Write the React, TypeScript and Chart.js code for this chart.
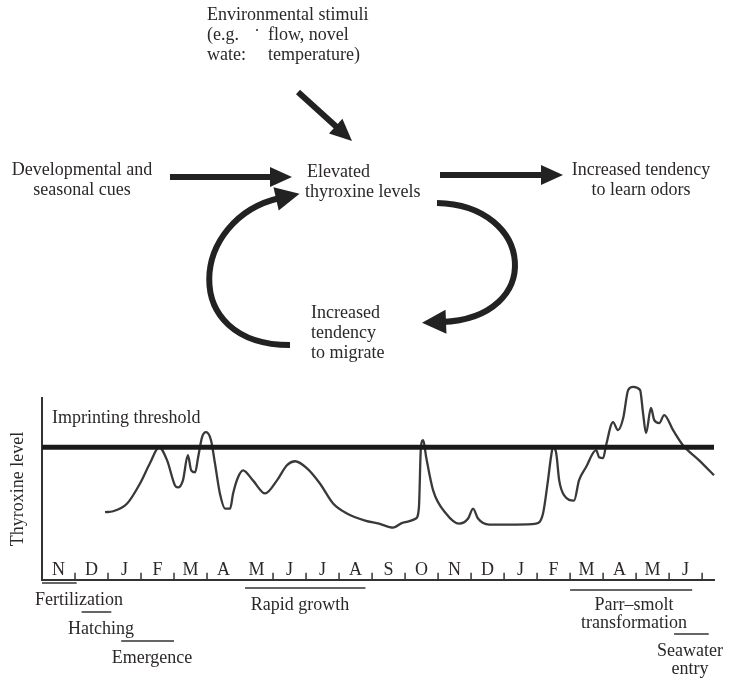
import React, { useEffect, useRef } from 'react';
import { Chart, registerables } from 'chart.js';

Chart.register(...registerables);

// ---- data ----
const months = ['N', 'D', 'J', 'F', 'M', 'A', 'M', 'J', 'J', 'A', 'S', 'O', 'N', 'D', 'J', 'F', 'M', 'A', 'M', 'J'];
const tickMonths = [1, 2, 3, 4, 5, 7, 8, 9, 10, 11, 12, 13, 14, 15, 16, 17, 18, 19, 20];
const xMax = 20.36;

const curveMonth = [
  1.91, 2.15, 2.58, 2.97, 3.27, 3.55, 3.79, 4.03, 4.12, 4.27, 4.42, 4.52, 4.64, 4.73, 4.85, 4.97, 5.12, 5.24, 5.39, 5.55,
  5.70, 5.79, 5.94, 6.09, 6.39, 6.76, 7.12, 7.42, 7.67, 8.03, 8.42, 8.82, 9.24, 9.79, 10.21, 10.64, 10.94, 11.33, 11.42, 11.48,
  11.55, 11.64, 11.85, 12.24, 12.64, 12.91, 13.06, 13.21, 13.55, 14.36, 14.97, 15.18, 15.33, 15.42, 15.48, 15.58, 15.67, 15.82, 16.12, 16.27,
  16.48, 16.79, 16.88, 17.0, 17.09, 17.3, 17.45, 17.61, 17.76, 17.91, 18.12, 18.21, 18.3, 18.45, 18.55, 18.7, 18.85, 19.12, 19.42, 19.91, 20.36,
];
const curveLevel = [
  37.2, 37.7, 42.0, 53.0, 64.1, 72.9, 65.7, 51.9, 50.8, 54.7, 68.5, 60.2, 59.1, 67.4, 78.5, 81.2, 76.8, 64.1, 47.5, 39.2,
  39.2, 47.5, 56.4, 60.2, 54.7, 47.5, 54.7, 63.0, 65.2, 61.3, 53.0, 42.0, 36.5, 32.6, 30.9, 28.7, 31.5, 33.7, 39.8, 72.9,
  76.8, 67.4, 49.2, 36.5, 30.9, 33.7, 39.2, 33.7, 30.4, 30.4, 30.9, 36.5, 54.7, 67.4, 72.9, 69.6, 54.7, 46.4, 43.6, 54.7,
  61.9, 71.3, 67.4, 66.9, 74.0, 86.7, 82.3, 89.0, 104.4, 106.1, 104.4, 91.7, 80.7, 94.5, 87.8, 86.2, 90.6, 82.3, 74.0, 65.7, 57.5,
];
const thresholdLevel = 72.9;

// developmental phases (in months from start of axis)
const phaseLabels = ['Fertilization', 'Hatching', 'Emergence', 'Rapid growth', 'Parr\u2013smolt\ntransformation', 'Seawater\nentry'];
const phaseStart = [0, 1.2, 2.4, 6.15, 16.0, 19.15];
const phaseEnd = [1.05, 2.1, 4.0, 9.8, 19.7, 20.2];

const FONT = '18px "Liberation Serif", "Times New Roman", serif';
const INK = '#2c2828';

function head(ctx: CanvasRenderingContext2D, tx: number, ty: number, ang: number, len = 22, wid = 20) {
  const c = Math.cos(ang), s = Math.sin(ang);
  const bx = tx - len * c, by = ty - len * s;
  ctx.beginPath();
  ctx.moveTo(tx, ty);
  ctx.lineTo(bx + (wid / 2) * s, by - (wid / 2) * c);
  ctx.lineTo(bx - (wid / 2) * s, by + (wid / 2) * c);
  ctx.closePath();
  ctx.fill();
}

function straightArrow(ctx: CanvasRenderingContext2D, x1: number, y1: number, tx: number, ty: number) {
  const ang = Math.atan2(ty - y1, tx - x1);
  const len = 22;
  ctx.beginPath();
  ctx.moveTo(x1, y1);
  ctx.lineTo(tx - (len - 2) * Math.cos(ang), ty - (len - 2) * Math.sin(ang));
  ctx.stroke();
  head(ctx, tx, ty, ang, len, 20);
}

function curvedArrow(ctx: CanvasRenderingContext2D, p0: number[], c1: number[], c2: number[], p1: number[]) {
  ctx.beginPath();
  ctx.moveTo(p0[0], p0[1]);
  ctx.bezierCurveTo(c1[0], c1[1], c2[0], c2[1], p1[0], p1[1]);
  ctx.stroke();
  const ang = Math.atan2(p1[1] - c2[1], p1[0] - c2[0]);
  head(ctx, p1[0] + 20 * Math.cos(ang), p1[1] + 20 * Math.sin(ang), ang, 24, 24);
}

const diagramPlugin = {
  id: 'diagram',
  afterDraw(chart: any) {
    const ctx: CanvasRenderingContext2D = chart.ctx;
    const xs = chart.scales.x;
    const area = chart.chartArea;
    ctx.save();
    ctx.fillStyle = INK;
    ctx.strokeStyle = '#222';
    ctx.font = FONT;
    ctx.textBaseline = 'middle';

    // top texts
    ctx.textAlign = 'left';
    ctx.fillText('Environmental stimuli', 207, 15);
    ctx.fillText('(e.g.', 207, 35);
    ctx.fillText('\u02D9', 254, 37);
    ctx.fillText('flow, novel', 268, 35);
    ctx.fillText('wate:', 207, 55);
    ctx.fillText('temperature)', 268, 55);

    ctx.textAlign = 'center';
    ctx.fillText('Developmental and', 82, 170);
    ctx.fillText('seasonal cues', 82, 190);
    ctx.fillText('Increased tendency', 641, 170);
    ctx.fillText('to learn odors', 641, 190);

    ctx.textAlign = 'left';
    ctx.fillText('Elevated', 307, 172);
    ctx.fillText('thyroxine levels', 305, 192);
    ctx.fillText('Increased', 311, 313);
    ctx.fillText('tendency', 311, 333);
    ctx.fillText('to migrate', 311, 353);

    // arrows
    ctx.fillStyle = '#222';
    ctx.lineWidth = 6;
    ctx.lineCap = 'butt';
    straightArrow(ctx, 298, 92, 352, 141);
    straightArrow(ctx, 170, 177, 292, 177);
    straightArrow(ctx, 440, 175, 563, 175);
    curvedArrow(ctx, [437, 203], [535, 205], [545, 318], [442, 322]);
    curvedArrow(ctx, [290, 345], [178, 345], [190, 218], [280, 198]);

    // threshold label
    ctx.fillStyle = INK;
    ctx.textAlign = 'left';
    ctx.fillText('Imprinting threshold', 52, 418);

    // month boundary tick marks (pointing up from axis)
    ctx.strokeStyle = '#333';
    ctx.lineWidth = 1.5;
    tickMonths.forEach((m) => {
      const x = xs.getPixelForValue(m);
      ctx.beginPath();
      ctx.moveTo(x, area.bottom);
      ctx.lineTo(x, area.bottom - 7);
      ctx.stroke();
    });

    // phases
    const lineY = [583, 612, 641, 588, 590, 634];
    const textY = [600, 629, 658, 605, 605, 651];
    const textX = [79, 101, 152, 300, 634, 690];
    ctx.lineWidth = 1.5;
    phaseLabels.forEach((lab, i) => {
      const x1 = xs.getPixelForValue(phaseStart[i]);
      const x2 = xs.getPixelForValue(phaseEnd[i]);
      ctx.beginPath();
      ctx.moveTo(x1, lineY[i]);
      ctx.lineTo(x2, lineY[i]);
      ctx.stroke();
      ctx.textAlign = 'center';
      lab.split('\n').forEach((ln, k) => ctx.fillText(ln, textX[i], textY[i] + k * 18));
    });
    ctx.restore();
  },
};

export default function App() {
  const ref = useRef<HTMLCanvasElement | null>(null);
  useEffect(() => {
    if (!ref.current) return;
    const chart = new Chart(ref.current, {
      type: 'line',
      data: {
        datasets: [
          {
            label: 'Imprinting threshold',
            data: [{ x: 0, y: thresholdLevel }, { x: xMax, y: thresholdLevel }],
            borderColor: '#1a1a1a',
            borderWidth: 5,
            pointRadius: 0,
          },
          {
            label: 'Thyroxine level',
            data: curveMonth.map((m, i) => ({ x: m, y: curveLevel[i] })),
            borderColor: '#3a3838',
            borderWidth: 2.3,
            pointRadius: 0,
            cubicInterpolationMode: 'monotone',
            clip: false as any,
          },
        ],
      },
      options: {
        animation: false,
        responsive: false,
        layout: { padding: { top: 398, left: 3.2, right: 18, bottom: 102.2 } },
        plugins: { legend: { display: false }, tooltip: { enabled: false } },
        scales: {
          x: {
            type: 'linear',
            min: 0,
            max: xMax,
            grid: { display: false, drawTicks: false },
            border: { display: true, color: '#333', width: 2 },
            afterBuildTicks: (scale: any) => {
              scale.ticks = months.map((_, i) => ({ value: i + 0.5 }));
            },
            ticks: {
              autoSkip: false,
              maxRotation: 0,
              padding: -20.8,
              color: INK,
              font: { family: '"Liberation Serif", serif', size: 18 },
              callback: (_v: any, i: number) => months[i],
            },
          },
          y: {
            min: 0,
            max: 100,
            grid: { display: false, drawTicks: false },
            border: { display: true, color: '#333', width: 2 },
            ticks: { display: false },
            title: {
              display: true,
              text: 'Thyroxine level',
              color: INK,
              font: { family: '"Liberation Serif", serif', size: 18 },
              padding: { top: 4, bottom: 13.2 },
            },
          },
        },
      },
      plugins: [diagramPlugin],
    } as any);
    return () => chart.destroy();
  }, []);
  return (
    <div style={{ position: 'fixed', left: 0, top: 0, width: 732, height: 682, background: '#fff' }}>
      <canvas ref={ref} width={732} height={682} style={{ width: 732, height: 682 }} />
    </div>
  );
}
